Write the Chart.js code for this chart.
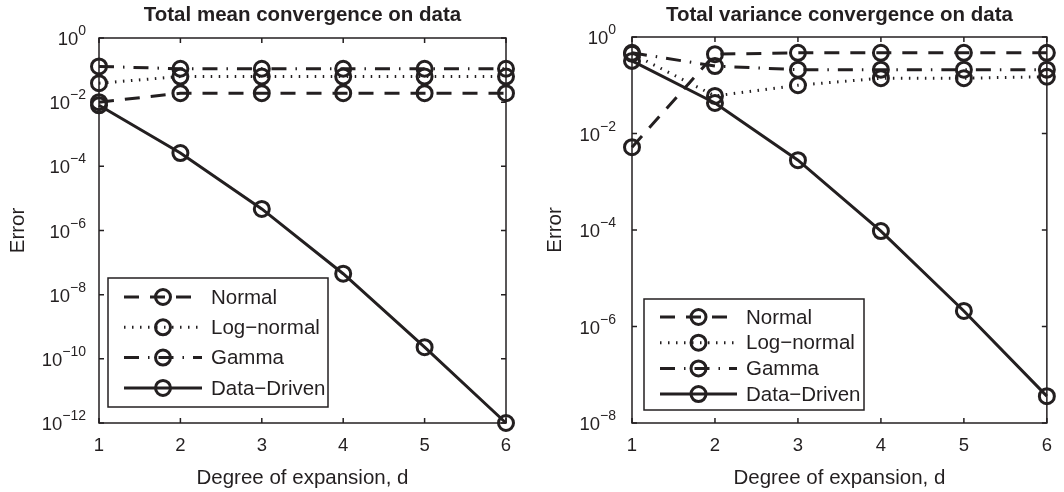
<!DOCTYPE html>
<html>
<head>
<meta charset="utf-8">
<script src="https://cdn.jsdelivr.net/npm/chart.js@4.4.1/dist/chart.umd.min.js"></script>
<style>
  html, body { margin: 0; padding: 0; background: #fff; }
  #wrap { position: relative; width: 1064px; height: 492px; }
  canvas { position: absolute; top: 0; }
  #meanChart { left: 0; }
  #varChart { left: 532px; }
</style>
</head>
<body>
<div id="wrap">
  <canvas id="meanChart" width="532" height="492"></canvas>
  <canvas id="varChart" width="532" height="492"></canvas>
</div>
<script>
// Data
const degrees = [1, 2, 3, 4, 5, 6];
const seriesNames = ['Normal', 'Log\u2212normal', 'Gamma', 'Data\u2212Driven'];

// Total mean error
const meanNormal = [0.010, 0.019, 0.019, 0.019, 0.019, 0.019];
const meanLogNormal = [0.039, 0.063, 0.063, 0.063, 0.063, 0.063];
const meanGamma = [0.13, 0.11, 0.11, 0.11, 0.11, 0.11];
const meanDataDriven = [8e-3, 2.6e-4, 4.7e-6, 4.5e-8, 2.3e-10, 1e-12];

// Total variance error
const varNormal = [0.0052, 0.44, 0.47, 0.47, 0.47, 0.47];
const varLogNormal = [0.45, 0.06, 0.10, 0.14, 0.14, 0.15];
const varGamma = [0.47, 0.25, 0.21, 0.21, 0.21, 0.21];
const varDataDriven = [0.32, 0.043, 2.8e-3, 9.5e-5, 2.1e-6, 3.6e-8];

// y tick exponents (labels are 10^e)
const meanTickExps = [0, -2, -4, -6, -8, -10, -12];
const varTickExps = [0, -2, -4, -6, -8];

const ink = '#231f20';
const fontFamily = '"Liberation Sans", Arial, Helvetica, sans-serif';
const seriesDash = [[15, 11], [1.5, 6.5], [15, 9, 1.5, 9], []];

function makeDatasets(valueLists) {
  return valueLists.map((vals, i) => ({
    label: seriesNames[i],
    data: degrees.map((d, k) => ({ x: d, y: vals[k] })),
    borderColor: ink,
    borderWidth: 3,
    borderDash: seriesDash[i],
    pointRadius: 7.5,
    pointHoverRadius: 7.5,
    pointBorderWidth: 3,
    pointBorderColor: ink,
    pointBackgroundColor: 'rgba(0,0,0,0)',
    tension: 0,
    clip: false
  }));
}

function supText(e) {
  return String(e).replace('-', '\u2212');
}

// box, inward ticks, 10^e labels and the legend, MATLAB style
const matlabAxes = {
  id: 'matlabAxes',
  beforeDatasetsDraw(chart, args, opts) {
    const { ctx, chartArea: a, scales } = chart;
    ctx.save();
    ctx.strokeStyle = ink;
    ctx.lineWidth = 1.5;
    ctx.strokeRect(a.left, a.top, a.right - a.left, a.bottom - a.top);
    ctx.beginPath();
    scales.x.ticks.forEach(t => {
      const px = scales.x.getPixelForValue(t.value);
      ctx.moveTo(px, a.bottom); ctx.lineTo(px, a.bottom - 5);
      ctx.moveTo(px, a.top); ctx.lineTo(px, a.top + 5);
    });
    scales.y.ticks.forEach(t => {
      const py = scales.y.getPixelForValue(t.value);
      ctx.moveTo(a.left, py); ctx.lineTo(a.left + 5, py);
      ctx.moveTo(a.right, py); ctx.lineTo(a.right - 5, py);
    });
    ctx.stroke();

    ctx.fillStyle = ink;
    ctx.textBaseline = 'alphabetic';
    const xr = a.left - opts.labelGap;
    scales.y.ticks.forEach(t => {
      const py = scales.y.getPixelForValue(t.value);
      const e = supText(Math.round(Math.log10(t.value)));
      ctx.font = '14px ' + fontFamily;
      const ew = ctx.measureText(e).width;
      ctx.textAlign = 'left';
      ctx.fillText(e, xr - ew, py - 3);
      ctx.font = '18.5px ' + fontFamily;
      ctx.textAlign = 'right';
      ctx.fillText('10', xr - ew, py + 7);
    });
    ctx.restore();
  },
  afterDatasetsDraw(chart, args, opts) {
    const L = opts.legend;
    const ctx = chart.ctx;
    ctx.save();
    ctx.fillStyle = '#fff';
    ctx.fillRect(L.x, L.y, L.w, L.h);
    ctx.strokeStyle = ink;
    ctx.lineWidth = 1.5;
    ctx.strokeRect(L.x, L.y, L.w, L.h);
    chart.data.datasets.forEach((ds, i) => {
      const y = L.row0 + i * L.rowGap;
      ctx.strokeStyle = ink;
      ctx.lineWidth = 3;
      ctx.setLineDash(ds.borderDash);
      ctx.beginPath();
      ctx.moveTo(L.line1, y);
      ctx.lineTo(L.line2, y);
      ctx.stroke();
      ctx.setLineDash([]);
      ctx.beginPath();
      ctx.arc((L.line1 + L.line2) / 2, y, 7.5, 0, Math.PI * 2);
      ctx.stroke();
      ctx.fillStyle = ink;
      ctx.font = '20.5px ' + fontFamily;
      ctx.textAlign = 'left';
      ctx.textBaseline = 'middle';
      ctx.fillText(ds.label, L.text, y + 1);
    });
    ctx.restore();
  }
};

function makeChart(id, title, valueLists, tickExps, yMin, geo) {
  return new Chart(document.getElementById(id), {
    type: 'line',
    data: { datasets: makeDatasets(valueLists) },
    plugins: [matlabAxes],
    options: {
      responsive: false,
      animation: false,
      events: [],
      layout: { padding: { left: 0, right: geo.padRight, top: 0, bottom: 0 } },
      plugins: {
        legend: { display: false },
        tooltip: { enabled: false },
        title: {
          display: true,
          text: title,
          fullSize: false,
          color: ink,
          font: { family: fontFamily, size: 20.5, weight: 'bold' },
          padding: { top: 3, bottom: geo.titleBottom }
        },
        matlabAxes: { labelGap: geo.labelGap, legend: geo.legend }
      },
      scales: {
        x: {
          type: 'linear',
          min: 1,
          max: 6,
          grid: { display: false, drawTicks: false },
          border: { display: false },
          ticks: {
            stepSize: 1,
            color: ink,
            padding: 12,
            font: { family: fontFamily, size: 18.5 }
          },
          title: {
            display: true,
            text: 'Degree of expansion, d',
            color: ink,
            font: { family: fontFamily, size: 20.5 },
            padding: 1
          },
          afterFit: s => { s.height = 69; }
        },
        y: {
          type: 'logarithmic',
          min: yMin,
          max: 1,
          grid: { display: false, drawTicks: false },
          border: { display: false },
          ticks: { display: false },
          afterBuildTicks: s => { s.ticks = tickExps.map(e => ({ value: Math.pow(10, e) })); },
          title: {
            display: true,
            text: 'Error',
            color: ink,
            font: { family: fontFamily, size: 20.5 },
            padding: geo.yTitlePad
          },
          afterFit: s => { s.width = geo.yWidth; }
        }
      }
    }
  });
}

makeChart('meanChart', 'Total mean convergence on data',
  [meanNormal, meanLogNormal, meanGamma, meanDataDriven], meanTickExps, 1e-12,
  { padRight: 26, titleBottom: 10.4, yWidth: 99, yTitlePad: 6, labelGap: 13,
    legend: { x: 108, y: 278, w: 220, h: 129, row0: 297, rowGap: 30.3, line1: 124, line2: 202, text: 211 } });

makeChart('varChart', 'Total variance convergence on data',
  [varNormal, varLogNormal, varGamma, varDataDriven], varTickExps, 1e-8,
  { padRight: 16, titleBottom: 9.4, yWidth: 100, yTitlePad: 11, labelGap: 16,
    legend: { x: 112, y: 299, w: 220, h: 111, row0: 317, rowGap: 25.7, line1: 128, line2: 205, text: 214 } });
</script>
</body>
</html>
